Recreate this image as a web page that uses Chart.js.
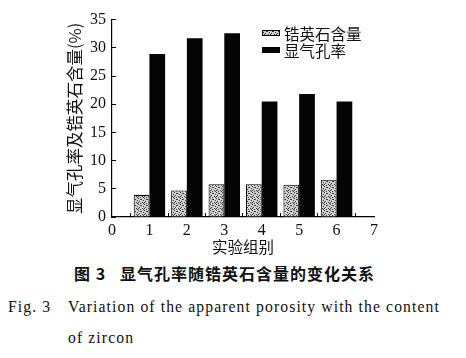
<!DOCTYPE html>
<html>
<head>
<meta charset="utf-8">
<script src="https://cdn.jsdelivr.net/npm/chart.js@4/dist/chart.umd.min.js"></script>
<style>
  html, body { margin: 0; padding: 0; background: #fff; }
  body { width: 466px; height: 358px; position: relative; overflow: hidden; }
  #wrap { position: absolute; left: 0; top: 0; width: 466px; height: 258px; }
  .cap { position: absolute; white-space: nowrap; color: #111; }
  #cn { left: 74px; top: 261px; font: bold 16px "Noto Sans CJK SC", sans-serif; letter-spacing: 1px; }
  #en1 { left: 8px; top: 298px; font: 15.7px "Liberation Serif", "DejaVu Serif", serif; letter-spacing: 1.1px; }
  #en1 span.fig { display: inline-block; width: 60px; }
  #en2 { left: 68px; top: 329px; font: 15.7px "Liberation Serif", "DejaVu Serif", serif; letter-spacing: 1.1px; }
</style>
</head>
<body>
<div id="wrap"><canvas id="c"></canvas></div>
<div class="cap" id="cn">图 3&nbsp;&nbsp;&nbsp;显气孔率随锆英石含量的变化关系</div>
<div class="cap" id="en1"><span class="fig">Fig. 3</span>Variation of the apparent porosity with the content</div>
<div class="cap" id="en2">of zircon</div>
<script>
// ---- data ----
const groups = ['0', '1', '2', '3', '4', '5', '6', '7'];
const zirconContent = [null, 3.9, 4.7, 5.8, 5.8, 5.7, 6.6, null];
const apparentPorosity = [null, 28.9, 31.7, 32.6, 20.5, 21.8, 20.5, null];
const seriesNames = ['锆英石含量', '显气孔率'];
const yTitle = '显气孔率及锆英石含量(%)';
const xTitle = '实验组别';

// ---- stipple pattern ----
function makeStipple() {
  const t = document.createElement('canvas');
  t.width = 6; t.height = 6;
  const g = t.getContext('2d');
  g.fillStyle = '#d0d0d0';
  g.fillRect(0, 0, 6, 6);
  g.fillStyle = '#3a3a3a';
  const dots = [[0,0],[3,1],[5,2],[1,3],[4,4],[2,5],[5,5],[2,1],[0,4]];
  dots.forEach(([x, y]) => g.fillRect(x, y, 1, 1));
  return document.getElementById('c').getContext('2d').createPattern(t, 'repeat');
}
const stipple = makeStipple();

const serif = '"Liberation Serif", "DejaVu Serif", serif';
const cjk = '"Noto Sans CJK SC", sans-serif';

const legendPlugin = {
  id: 'customLegend',
  afterDraw(chart) {
    const ctx = chart.ctx;
    const x0 = 262, ys = [33, 50];
    ctx.save();
    chart.data.datasets.forEach((ds, i) => {
      const y = ys[i];
      ctx.fillStyle = ds.backgroundColor;
      ctx.fillRect(x0, y - 3, 18, 6);
      ctx.strokeStyle = '#000';
      ctx.lineWidth = 1;
      ctx.strokeRect(x0 + 0.5, y - 2.5, 17, 5);
      ctx.fillStyle = '#111';
      ctx.font = '15.5px ' + cjk;
      ctx.textBaseline = 'middle';
      ctx.textAlign = 'left';
      ctx.fillText(ds.label, x0 + 22, y + 1);
    });
    ctx.restore();
  }
};

new Chart(document.getElementById('c'), {
  type: 'bar',
  data: {
    labels: groups,
    datasets: [
      { label: seriesNames[0], data: zirconContent, backgroundColor: stipple, borderColor: '#000', borderWidth: 1 },
      { label: seriesNames[1], data: apparentPorosity, backgroundColor: '#050505', borderColor: '#000', borderWidth: 0 }
    ]
  },
  plugins: [legendPlugin],
  options: {
    responsive: true,
    maintainAspectRatio: false,
    animation: false,
    layout: { padding: { left: 0, right: 92, top: 14, bottom: 0 } },
    plugins: { legend: { display: false }, tooltip: { enabled: false } },
    datasets: { bar: { categoryPercentage: 0.84, barPercentage: 1.0 } },
    scales: {
      x: {
        type: 'category',
        offset: false,
        grid: { display: true, drawOnChartArea: false, drawTicks: true, tickLength: -4, color: '#000' },
        border: { display: true, color: '#000', width: 1.2 },
        ticks: { color: '#111', font: { family: serif, size: 16 }, padding: 8, maxRotation: 0, autoSkip: false },
        title: { display: true, text: xTitle, color: '#111', font: { family: cjk, size: 15.5 }, padding: { top: 0, bottom: 2 } },
        afterFit(s) { s.height = 41; }
      },
      y: {
        min: 0, max: 35,
        ticks: { stepSize: 5, color: '#111', font: { family: serif, size: 16 }, padding: 10 },
        grid: { display: true, drawOnChartArea: false, drawTicks: true, tickLength: -4, color: '#000' },
        border: { display: true, color: '#000', width: 1.2 },
        title: { display: true, text: yTitle, color: '#111', font: { family: cjk, size: 16.5 }, padding: { top: 65, bottom: 0 } },
        afterFit(s) { s.width = 112; }
      }
    }
  }
});
</script>
</body>
</html>
